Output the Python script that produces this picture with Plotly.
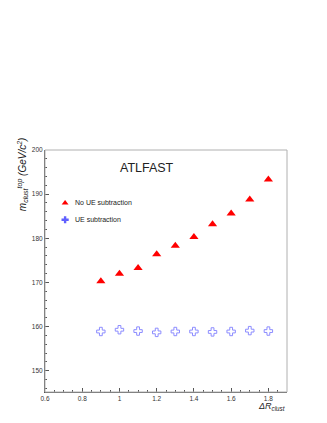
import plotly.graph_objs as go

# delta R of the cluster
dr = [0.9, 1.0, 1.1, 1.2, 1.3, 1.4, 1.5, 1.6, 1.7, 1.8]
# top mass without UE subtraction
m_no_ue = [170.3, 172.0, 173.3, 176.4, 178.3, 180.3, 183.2, 185.6, 188.8, 193.3]
# top mass with UE subtraction
m_ue = [158.9, 159.3, 159.0, 158.7, 158.9, 158.9, 158.8, 158.9, 159.1, 159.0]

xticks = [0.6, 0.8, 1.0, 1.2, 1.4, 1.6, 1.8]
xticktext = ['0.6', '0.8', '1', '1.2', '1.4', '1.6', '1.8']
yticks = [150, 160, 170, 180, 190, 200]

font_family = "Liberation Sans, Arial, sans-serif"

fig = go.Figure()

fig.add_trace(go.Scatter(
    x=dr, y=m_no_ue,
    mode='markers',
    name='No UE subtraction',
    marker=dict(symbol='triangle-up', size=8, color='#ff0000', line=dict(width=0)),
))

fig.add_trace(go.Scatter(
    x=dr, y=m_ue,
    mode='markers',
    name='UE subtraction',
    marker=dict(symbol='cross-open', size=7, color='#8c8cff', line=dict(width=1, color='#8c8cff')),
))

# legend drawn by hand, like in the ROOT picture
fig.add_trace(go.Scatter(
    x=[0.708], y=[188.0], mode='markers', showlegend=False, hoverinfo='skip',
    marker=dict(symbol='triangle-up', size=6, color='#ff0000'),
))
fig.add_trace(go.Scatter(
    x=[0.708], y=[184.2], mode='markers', showlegend=False, hoverinfo='skip',
    marker=dict(symbol='cross', size=6, color='#6060ff'),
))
fig.add_annotation(x=0.75, y=188.0, xref='x', yref='y', text='No UE subtraction',
                   showarrow=False, xanchor='left', font=dict(size=7, color='#222222'))
fig.add_annotation(x=0.75, y=184.2, xref='x', yref='y', text='UE subtraction',
                   showarrow=False, xanchor='left', font=dict(size=7, color='#222222'))

fig.add_annotation(x=0.99, y=195.9, xref='x', yref='y', text='ATLFAST',
                   showarrow=False, xanchor='left', font=dict(size=12.5, color='#222222'))

# axis titles
fig.add_annotation(x=-0.095, y=0.9, xref='paper', yref='paper', xanchor='center', yanchor='middle',
                   text='<i>m<sub>clust</sub><sup>top</sup> (GeV/c<sup>2</sup>)</i>',
                   textangle=-90, showarrow=False, font=dict(size=10, color='#222222'))
fig.add_annotation(x=1.0, y=-0.03, xref='paper', yref='paper', xanchor='right', yanchor='top',
                   text='<i>ΔR<sub>clust</sub></i>',
                   showarrow=False, font=dict(size=9, color='#222222'))

# light frame on top and right
fig.add_shape(type='rect', xref='paper', yref='paper', x0=0, y0=0, x1=1, y1=1,
              line=dict(color='#b0b0b0', width=1))

fig.update_layout(
    showlegend=False,
    width=319,
    height=415,
    margin=dict(l=37, r=40, t=142, b=31),
    font=dict(family=font_family, size=6.5, color='#333333'),
    xaxis=dict(
        range=[0.6, 1.9],
        tickvals=xticks,
        ticktext=xticktext,
        ticks='inside',
        ticklen=4,
        tickcolor='#555555',
        minor=dict(dtick=0.05, tick0=0.6, ticks='inside', ticklen=2, tickcolor='#555555'),
        showgrid=False,
        zeroline=False,
        showline=True,
        linecolor='#555555',
        linewidth=1,
        tickfont=dict(size=6.5),
    ),
    yaxis=dict(
        range=[145.2, 200],
        tickvals=yticks,
        ticks='inside',
        ticklen=4,
        tickcolor='#555555',
        minor=dict(dtick=2, tick0=150, ticks='inside', ticklen=2, tickcolor='#555555'),
        showgrid=False,
        zeroline=False,
        showline=True,
        linecolor='#555555',
        linewidth=1,
        tickfont=dict(size=6.5),
    ),
    paper_bgcolor='rgb(255, 255, 255)',
    plot_bgcolor='rgb(255, 255, 255)',
)

fig.write_html("out.html")
